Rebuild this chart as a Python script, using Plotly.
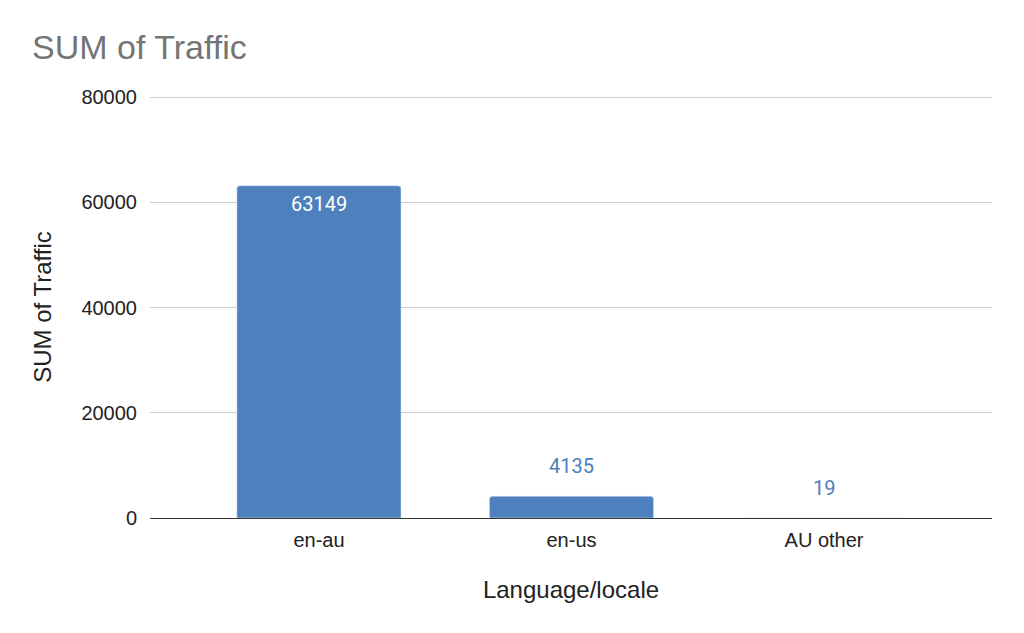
import plotly.graph_objects as go

# Traffic by language/locale
locales = ['en-au', 'en-us', 'AU other']
traffic = [63149, 4135, 19]
y_ticks = [0, 20000, 40000, 60000, 80000]

bar_colour = '#4e80bd'

fig = go.Figure()
fig.add_trace(go.Bar(
    x=locales,
    y=traffic,
    marker=dict(color=bar_colour, cornerradius=3),
    hoverinfo='x+y',
    )
)

# data labels: the big bar gets a white label inside, the rest sit above
for loc, val in zip(locales, traffic):
    inside = val > 20000
    fig.add_annotation(
        x=loc, y=val,
        text=str(val),
        showarrow=False,
        yanchor='middle',
        yshift=-18 if inside else 30,
        font=dict(family='Roboto', size=20,
                  color='white' if inside else bar_colour),
    )

# page body has an 8px margin, so the figure is a bit smaller than the window
fig.update_layout(
    width=1016,
    height=625,
    paper_bgcolor='white',
    plot_bgcolor='white',
    font=dict(family='Liberation Sans, Arial', size=20, color='#222222'),
    title=dict(text='SUM of Traffic', x=0.0236, xanchor='left',
               y=0.9376, yanchor='middle',
               font=dict(size=34, color='#757575')),
    margin=dict(l=142, r=32, t=88, b=115),
    bargap=0.35,
    showlegend=False,
)
fig.update_xaxes(
    title=dict(text='Language/locale', standoff=31),
    range=[-0.669, 2.665],
    showline=True, linecolor='#333333', linewidth=1.3,
    ticks='', showgrid=False, ticklabelstandoff=4,
)
fig.update_yaxes(
    title=dict(text='SUM of Traffic', standoff=22),
    range=[0, 80200],
    tickvals=y_ticks,
    ticktext=[str(t) for t in y_ticks],
    gridcolor='#cccccc', gridwidth=1,
    zeroline=False,
    ticks='', ticklabelstandoff=12,
)
fig.write_html('out.html')
